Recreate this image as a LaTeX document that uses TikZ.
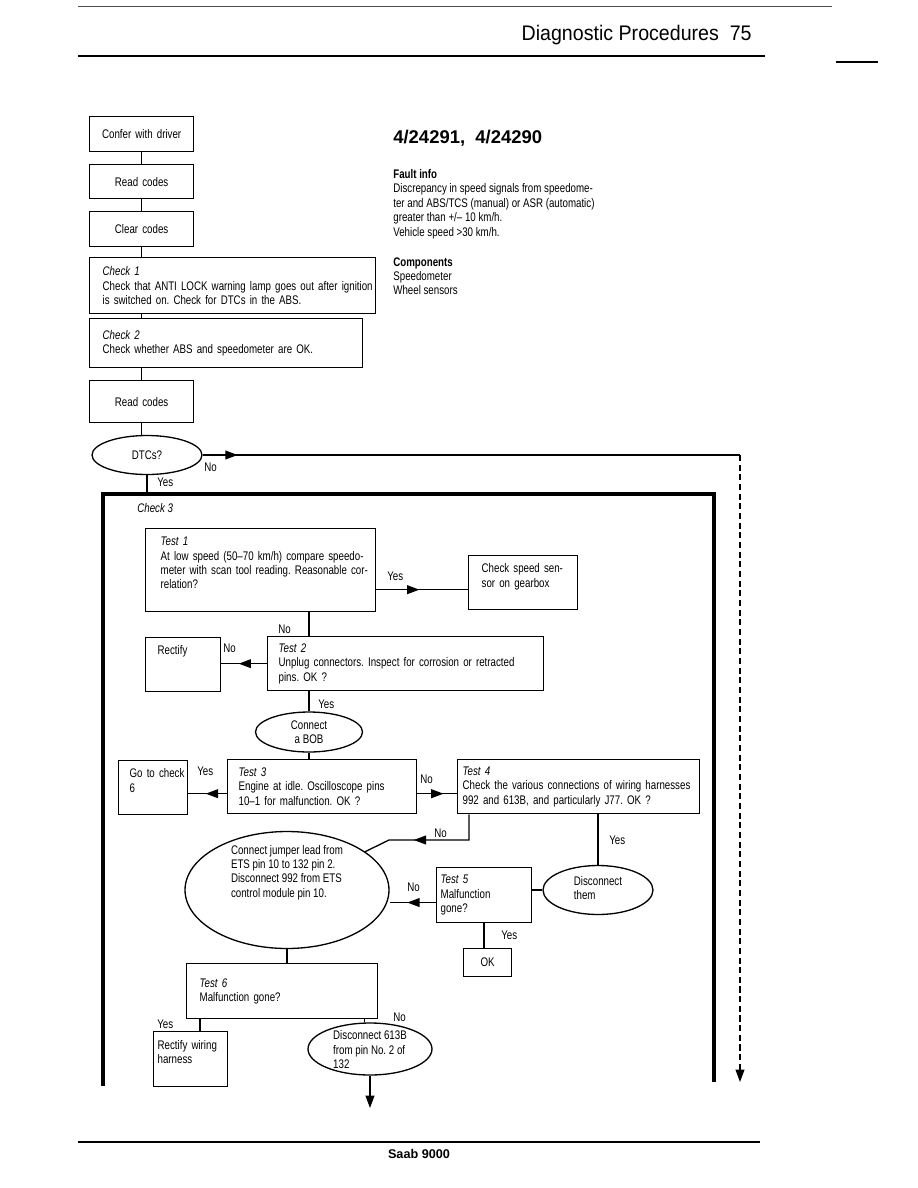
\documentclass[tikz,border=0pt]{standalone}
\usepackage{fontspec}
\setmainfont{Liberation Sans}[FakeStretch=0.78]
\newfontfamily\plainsans{Liberation Sans}
\newfontfamily\headsans{Liberation Sans}[FakeStretch=0.93]
\usepackage{tikz}
\usetikzlibrary{arrows.meta, positioning, shapes.geometric, decorations.markings}
\frenchspacing

\newcommand{\boxfont}{\fontsize{7.1pt}{8.2pt}\selectfont}
\newcommand{\elines}[2][0pt]{\raisebox{#1}[0pt][0pt]{\begin{tabular}{@{}l@{}}#2\end{tabular}}}

\begin{document}
\begin{tikzpicture}[
    x=0.02cm, y=-0.02cm,
    box/.style={rectangle, draw, line width=0.75pt, anchor=north west, inner sep=0pt, font=\boxfont},
    cbox/.style 2 args={box, minimum width=#1, text width=#1, minimum height=#2, align=center},
    tbox/.style n args={3}{box, minimum width=#1, text width=#1, minimum height=#2, align=left,
        execute at begin node={\leftskip=#3\rightskip=0pt plus 1fil\hyphenpenalty=10000}},
    oval/.style={ellipse, draw, line width=0.75pt, inner sep=0pt, font=\boxfont},
    lbl/.style={anchor=west, inner sep=0pt, font=\boxfont},
    conn/.style={line width=0.75pt},
    endarrow/.style={line width=0.75pt, -{Triangle[length=7pt, width=5pt]}},
    arrowat/.style={line width=0.75pt, postaction={decorate}, decoration={markings, mark=at position #1 with {\arrow{Triangle[length=7pt, width=5pt]}}}},
    chkframe/.style={line width=2.2pt}
]
    \path[use as bounding box, fill=white] (0,0) rectangle (918,1188);

    % Page header and footer
    \draw[line width=0.5pt, black!70] (78,6) -- (832,6);
    \node[anchor=east, inner sep=0pt, font=\headsans\fontsize{12pt}{14pt}\selectfont] (pagehead) at (752,35) {Diagnostic Procedures~~75};
    \draw[line width=1.1pt] (78,56) -- (765,56);
    \draw[line width=0.8pt] (836,62) -- (878,62);
    \draw[line width=0.9pt] (78,1142) -- (760,1142);
    \node[inner sep=0pt, font=\plainsans\bfseries\fontsize{7.2pt}{9pt}\selectfont] (pagefoot) at (419,1154) {Saab 9000};

    % Fault summary
    \node[anchor=west, inner sep=0pt, font=\plainsans\bfseries\fontsize{10.5pt}{12pt}\selectfont] (code) at (393,138) {4/24291,~~4/24290};
    \node[anchor=north west, inner sep=0pt, align=left, font=\boxfont] (fault) at (393,169) {\textbf{Fault info}\\Discrepancy in speed signals from speedome-\\ter and ABS/TCS (manual) or ASR (automatic)\\greater than +/-- 10 km/h.\\Vehicle speed >30 km/h.};
    \node[anchor=north west, inner sep=0pt, align=left, font=\boxfont] (comps) at (393,257) {\textbf{Components}\\Speedometer\\Wheel sensors};

    % Preliminary steps
    \node[cbox={2.08cm}{0.7cm}] (confer) at (89,116) {Confer with driver};
    \node[cbox={2.08cm}{0.68cm}] (read1) at (89,164) {Read codes};
    \node[cbox={2.08cm}{0.7cm}] (clear) at (89,211) {Clear codes};
    \node[tbox={5.72cm}{1.12cm}{0.26cm}] (check1) at (89,257) {\textit{Check 1}\\\mbox{Check that ANTI LOCK warning lamp goes out after ignition}\\is switched on. Check for DTCs in the ABS.};
    \node[tbox={5.46cm}{0.98cm}{0.26cm}] (check2) at (89,318) {\textit{Check 2}\\Check whether ABS and speedometer are OK.};
    \node[cbox={2.08cm}{0.84cm}] (read2) at (89,380) {Read codes};
    \node[oval, minimum width=2.2cm, minimum height=0.78cm] (dtc) at (147,455) {DTCs?};

    \draw[conn] (confer) -- (read1);
    \draw[conn] (read1) -- (clear);
    \draw[conn] (clear.south) -- (clear.south |- check1.north);
    \draw[conn] (clear.south |- check1.south) -- (clear.south |- check2.north);
    \draw[conn] (read2.north |- check2.south) -- (read2);
    \draw[conn] (read2.south) -- (read2.south |- dtc.north);

    % DTCs? branches
    \coordinate (dtcR) at (740,455);
    \coordinate (dtcEnd) at (740,1082);
    \coordinate (chk3top) at (147,494);
    \draw[arrowat=0.7cm] (dtc.east) -- (dtcR);
    \draw[endarrow, dash pattern=on 3.5pt off 2pt] (dtcR) -- (dtcEnd);
    \draw[conn] (dtc.south) -- (chk3top);
    \node[lbl] (noDtc) at (204,467) {No};
    \node[lbl] (yesDtc) at (157,482) {Yes};

    % Check 3
    \draw[chkframe] (103,1086) -- (103,494) -- (714,494) -- (714,1082);
    \node[lbl] (check3) at (137,508) {\textit{Check 3}};

    \node[tbox={4.6cm}{1.66cm}{0.3cm}] (test1) at (145,528) {\textit{Test 1}\\At low speed (50--70 km/h) compare speedo-\\meter with scan tool reading. Reasonable cor-\\relation?\\~};
    \node[tbox={2.18cm}{1.08cm}{0.26cm}] (sensor) at (468,555) {Check speed sen-\\sor on gearbox\\~};
    \node[tbox={1.5cm}{1.08cm}{0.24cm}] (rectify) at (145,637) {Rectify\\~\\~};
    \node[tbox={5.52cm}{1.08cm}{0.22cm}] (test2) at (267,636) {\textit{Test 2}\\Unplug connectors. Inspect for corrosion or retracted\\pins. OK ?};
    \node[oval, align=center, minimum width=2.14cm, minimum height=0.8cm] (bob) at (309,732) {Connect\\a BOB};
    \node[tbox={1.38cm}{1.08cm}{0.22cm}] (goto6) at (118,760) {Go to check\\6\\~};
    \node[tbox={3.78cm}{1.08cm}{0.22cm}] (test3) at (227,759) {\textit{Test 3}\\\makebox[3.32cm][s]{Engine at idle. Oscilloscope pins}\\10--1 for malfunction. OK ?};
    \node[tbox={4.84cm}{1.08cm}{0.1cm}] (test4) at (457,759) {\textit{Test 4}\\Check the various connections of wiring harnesses\\992 and 613B, and particularly J77. OK ?};
    \node[oval, minimum width=4.08cm, minimum height=2.34cm] (jumper) at (287,890) {\elines[8pt]{Connect jumper lead from\\ETS pin 10 to 132 pin 2.\\Disconnect 992 from ETS\\control module pin 10.}};
    \node[tbox={1.9cm}{1.1cm}{0.08cm}] (test5) at (436,867) {\textit{Test 5}\\Malfunction\\gone?};
    \node[oval, minimum width=2.2cm, minimum height=0.98cm] (discon) at (598,890) {\elines[-1.5pt]{Disconnect\\them}};
    \node[cbox={0.96cm}{0.56cm}] (ok) at (463,948) {OK};
    \node[tbox={3.82cm}{1.1cm}{0.26cm}] (test6) at (186,963) {\textit{Test 6}\\Malfunction gone?};
    \node[tbox={1.48cm}{1.1cm}{0.08cm}] (rwire) at (153,1031) {\makebox[1.32cm][s]{Rectify wiring}\\harness\\~};
    \node[oval, minimum width=2.48cm, minimum height=1.04cm] (dis613) at (370,1049) {\elines[-3pt]{Disconnect 613B\\from pin No. 2 of\\132}};

    % Connectors inside Check 3
    \coordinate (s1) at ([yshift=-4pt]sensor.west);
    \coordinate (y3) at ([yshift=-4pt]test3.west);
    \coordinate (n4) at (469,840);
    \coordinate (n4b) at (389,840);
    \coordinate (y5) at ([yshift=-4.2pt]test5.west);
    \coordinate (y6) at ([xshift=0.28cm]test6.south west);
    \coordinate (n6) at ([xshift=-0.28cm]test6.south east);
    \coordinate (out613) at (370,1108);

    \draw[arrowat=0.47] (s1 -| test1.east) -- (s1);
    \draw[conn] (test1.south -| bob) -- (test2.north -| bob);
    \draw[arrowat=0.62] (test2.west) -- (test2.west -| rectify.east);
    \draw[conn] (test2.south -| bob) -- (bob.north);
    \draw[conn] (bob.south) -- (bob.south |- test3.north);
    \draw[arrowat=0.55] (y3) -- (y3 -| goto6.east);
    \draw[arrowat=0.66] (y3 -| test3.east) -- (y3 -| test4.west);
    \draw[arrowat=1.62cm] (n4 |- test4.south) -- (n4) -- (n4b) -- (jumper);
    \draw[conn] (test4.south -| discon) -- (discon.north);
    \draw[conn] (test5.east |- discon) -- (discon.west);
    \draw[arrowat=0.62] (y5) -- (y5 -| jumper.east);
    \draw[conn] (test5.south) -- (test5.south |- ok.north);
    \draw[conn] (jumper.south) -- (jumper.south |- test6.north);
    \draw[conn] (y6) -- (y6 |- rwire.north);
    \draw[conn] (n6) -- (n6 |- dis613.north);
    \draw[endarrow] (dis613.south) -- (out613);

    \node[lbl] (yes1) at (387,576) {Yes};
    \node[lbl] (no1) at (278,629) {No};
    \node[lbl] (no2) at (223,648) {No};
    \node[lbl] (yes2) at (318,704) {Yes};
    \node[lbl] (yes3) at (197,771) {Yes};
    \node[lbl] (no3) at (420,779) {No};
    \node[lbl] (no4) at (434,833) {No};
    \node[lbl] (yes4) at (609,840) {Yes};
    \node[lbl] (no5) at (407,887) {No};
    \node[lbl] (yes5) at (501,935) {Yes};
    \node[lbl] (yes6) at (157,1024) {Yes};
    \node[lbl] (no6) at (393,1017) {No};
\end{tikzpicture}
\end{document}
